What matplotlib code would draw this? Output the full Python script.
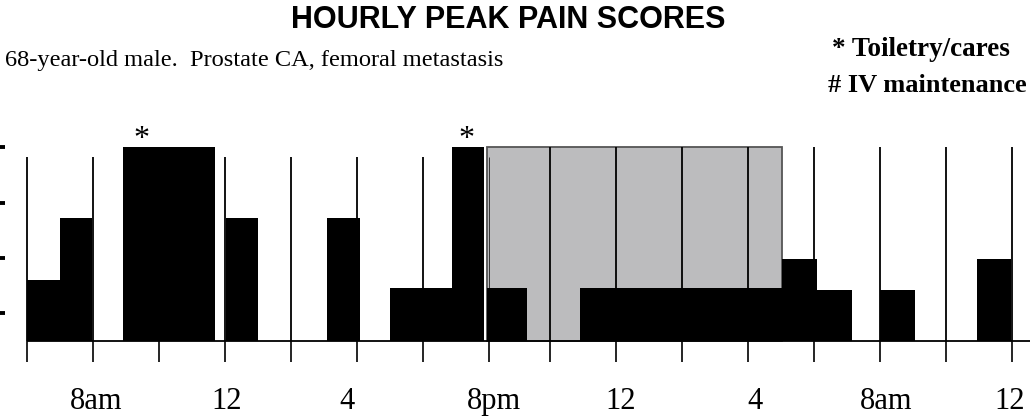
import matplotlib
matplotlib.use("Agg")
import matplotlib.pyplot as plt

# ---- data (hours from midnight of day 1; scores in chart units) ----
bar_start = [6.0, 7.0, 8.91, 12.01, 15.07, 17.0, 17.95, 18.86, 19.93, 22.75, 28.87, 29.92, 31.84, 34.78]
bar_end   = [7.0, 7.97, 11.69, 13.0, 16.08, 17.95, 18.86, 19.85, 21.13, 28.87, 29.92, 31.0, 32.89, 35.8]
bar_score = [1.10, 2.22, 3.5, 2.22, 2.22, 0.95, 0.95, 3.5, 0.95, 0.95, 1.48, 0.93, 0.93, 1.48]

grey_start, grey_end, grey_score = 19.92, 28.87, 3.5

tick_hours = [6, 8, 10, 12, 14, 16, 18, 20, 21.85, 23.85, 25.85, 27.85, 29.85, 31.85, 33.85, 35.85]
grid_top = [3.33] * 8 + [3.5] * 8

label_text = ["8am", "12", "4", "8pm", "12", "4", "8am", "12"]
label_hours = [8.08, 12.05, 15.68, 20.14, 23.99, 28.05, 32.04, 35.76]

star_hours = [9.45, 19.3]
star_score = 3.5

ytick_vals = [0.5, 1.5, 2.5, 3.5]

# ---- figure ----
W, H = 1030, 418
fig = plt.figure(figsize=(W / 100, H / 100), dpi=100)
ax = fig.add_axes([0, 0, 1, (H - 110) / H])
ax.set_xlim(6 - 27.3 / 33, 6 + (W - 27.3) / 33)
ax.set_ylim(-(H - 341) / 55.33, (341 - 110) / 55.33)
for s in ax.spines.values():
    s.set_visible(False)

# grey shaded period
ax.bar(grey_start, grey_score, width=grey_end - grey_start, align="edge",
       color="#bcbcbe", edgecolor="#555555", linewidth=1.3, zorder=1)

# grid lines
for h, top in zip(tick_hours, grid_top):
    lw = 0.7 if h == 20 else 1.3
    col = "#333333" if h == 20 else "black"
    ax.vlines(h, 0, top, color=col, linewidth=lw, zorder=2)

# black bars
widths = [e - s for s, e in zip(bar_start, bar_end)]
ax.bar(bar_start, bar_score, width=widths, align="edge", color="black",
       edgecolor="none", linewidth=0, zorder=3)

# baseline
ax.hlines(0, tick_hours[0], ax.get_xlim()[1], color="black", linewidth=1.3, zorder=4)

# x ticks below baseline
ax.vlines(tick_hours, -(362.3 - 341) / 55.33, 0, color="black", linewidth=1.2, zorder=4)
ax.set_xticks([])
for h, lab in zip(label_hours, label_text):
    ax.text(h, -(409 - 341) / 55.33, lab, ha="center", va="baseline",
            fontsize=22, family="Liberation Serif")

# y tick marks (left edge)
ax.set_yticks(ytick_vals)
ax.set_yticklabels([])
ax.tick_params(axis="y", direction="in", length=3.5, width=2.8, color="black")

# stars
for h in star_hours:
    ax.text(h, star_score, "*", ha="center", va="baseline", fontsize=23,
            family="Liberation Serif")

# titles
fig.text(508 / W, 1 - 28 / H, "HOURLY PEAK PAIN SCORES", ha="center", va="baseline",
         fontsize=22, fontweight="bold", family="Liberation Sans")
fig.text(5 / W, 1 - 66 / H, "68-year-old male.  Prostate CA, femoral metastasis",
         ha="left", va="baseline", fontsize=17.6, family="Liberation Serif")
fig.text(832 / W, 1 - 56 / H, "* Toiletry/cares", ha="left", va="baseline",
         fontsize=19.5, fontweight="bold", family="Liberation Serif")
fig.text(828 / W, 1 - 92 / H, "# IV maintenance", ha="left", va="baseline",
         fontsize=19, fontweight="bold", family="Liberation Serif")

fig.savefig("out.png", dpi=100)
